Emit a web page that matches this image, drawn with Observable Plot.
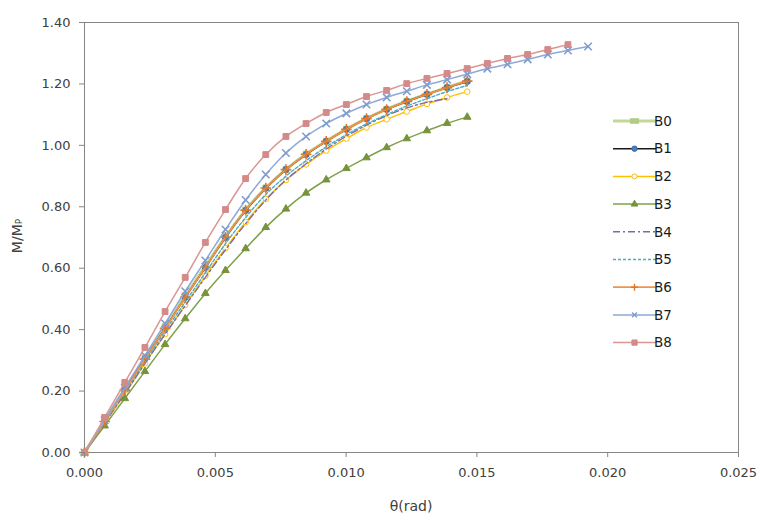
<!DOCTYPE html>
<html><head><meta charset="utf-8">
<script src="https://cdn.jsdelivr.net/npm/d3@7"></script>
<script src="https://cdn.jsdelivr.net/npm/@observablehq/plot@0.6"></script>
<style>
body{margin:0;background:#fff}
#chart{width:762px;height:520px}
svg{font-family:"DejaVu Sans",sans-serif}
</style>
</head><body><div id="chart"></div>
<script>
// rotation (rad) at each recorded step
const theta = [0, 0.00077, 0.00154, 0.00231, 0.00308, 0.00385, 0.00462, 0.00539, 0.00616, 0.00693,
  0.0077, 0.00847, 0.00924, 0.01001, 0.01078, 0.01155, 0.01232, 0.01309, 0.01386, 0.01463,
  0.0154, 0.01617, 0.01694, 0.01771, 0.01848, 0.01925];

const B0 = [0, 0.104, 0.207, 0.308, 0.410, 0.510, 0.607, 0.703, 0.790, 0.862, 0.922, 0.972, 1.014, 1.053, 1.088, 1.118, 1.144, 1.167, 1.189, 1.210];
const B1 = [0, 0.102, 0.205, 0.305, 0.405, 0.505, 0.602, 0.700, 0.788, 0.860, 0.921, 0.970, 1.013, 1.052, 1.087, 1.117, 1.143, 1.166, 1.188, 1.208];
const B2 = [0, 0.095, 0.190, 0.290, 0.385, 0.480, 0.575, 0.665, 0.750, 0.825, 0.887, 0.938, 0.983, 1.022, 1.058, 1.085, 1.110, 1.135, 1.156, 1.175];
const B3 = [0, 0.087, 0.176, 0.264, 0.352, 0.436, 0.518, 0.593, 0.664, 0.733, 0.793, 0.845, 0.888, 0.925, 0.960, 0.993, 1.022, 1.048, 1.072, 1.092];
const B4 = [0, 0.097, 0.192, 0.290, 0.385, 0.478, 0.570, 0.660, 0.745, 0.822, 0.887, 0.940, 0.988, 1.030, 1.066, 1.097, 1.122, 1.140, 1.152];
const B5 = [0, 0.100, 0.198, 0.297, 0.395, 0.490, 0.585, 0.680, 0.765, 0.840, 0.900, 0.950, 0.995, 1.035, 1.070, 1.100, 1.128, 1.152, 1.175, 1.195];
const B6 = [0, 0.101, 0.203, 0.304, 0.404, 0.505, 0.603, 0.701, 0.789, 0.861, 0.921, 0.971, 1.013, 1.052, 1.087, 1.117, 1.143, 1.166, 1.188, 1.209];
const B7 = [0, 0.105, 0.210, 0.315, 0.420, 0.525, 0.625, 0.726, 0.822, 0.905, 0.975, 1.029, 1.071, 1.104, 1.133, 1.156, 1.176, 1.197, 1.214, 1.232, 1.250, 1.264, 1.280, 1.296, 1.309, 1.322];
const B8 = [0, 0.114, 0.228, 0.342, 0.459, 0.570, 0.684, 0.791, 0.892, 0.970, 1.029, 1.071, 1.107, 1.133, 1.159, 1.179, 1.201, 1.218, 1.234, 1.250, 1.267, 1.283, 1.296, 1.312, 1.328];

const seriesNames = ["B0","B1","B2","B3","B4","B5","B6","B7","B8"];
const seriesValues = {B0,B1,B2,B3,B4,B5,B6,B7,B8};
const xTicks = [0, 0.005, 0.010, 0.015, 0.020, 0.025];
const yTicks = [0, 0.2, 0.4, 0.6, 0.8, 1.0, 1.2, 1.4];

const styles = {
  B0:{line:"#C4D79B", w:3, dash:null, symbol:"square", fill:"#B2CB85", mstroke:"#B2CB85", r:3.2},
  B1:{line:"#1a1a1a", w:1.5, dash:null, symbol:"circle", fill:"#4A7EBB", mstroke:"#3A6AA5", r:3},
  B2:{line:"#FFC000", w:1.5, dash:null, symbol:"circle", fill:"#ffffff", mstroke:"#FFC000", r:2.8},
  B3:{line:"#7EA14B", w:1.5, dash:null, symbol:"triangle", fill:"#77933C", mstroke:"#77933C", r:2.8},
  B4:{line:"#7E6AA2", w:1.4, dash:"7,3,2,3", symbol:null},
  B5:{line:"#4BACC6", w:1.4, dash:"3,2", symbol:null},
  B6:{line:"#F0944C", w:1.8, dash:null, symbol:"plus", fill:"none", mstroke:"#E0782C", r:3.5},
  B7:{line:"#8EA9D8", w:1.5, dash:null, symbol:"times", fill:"none", mstroke:"#7F9BCF", r:3.5},
  B8:{line:"#D99694", w:1.5, dash:null, symbol:"square", fill:"#D48A88", mstroke:"#D48A88", r:3.3}
};

const rows = seriesNames.flatMap(s => seriesValues[s].map((m, i) => ({s, t: theta[i], m})));

const marks = [Plot.frame({stroke:"#868686", strokeWidth:1})];
for (const s of seriesNames) {
  const st = styles[s];
  const d = rows.filter(r => r.s === s);
  marks.push(Plot.line(d, {x:"t", y:"m", stroke: st.line, strokeWidth: st.w, strokeDasharray: st.dash, curve:"catmull-rom"}));
  if (st.symbol) {
    marks.push(Plot.dot(d, {x:"t", y:"m", symbol: st.symbol, r: st.r, fill: st.fill, stroke: st.mstroke,
      strokeWidth: (st.symbol === "plus" || st.symbol === "times") ? 1.6 : 1}));
  }
}
marks.push(Plot.axisX({ticks: xTicks, tickFormat: d => d.toFixed(3), tickSize: 5, tickPadding: 10, fontSize: 13, label: null, stroke:"#868686"}));
marks.push(Plot.axisY({ticks: yTicks, tickFormat: d => d.toFixed(2), tickSize: 5, tickPadding: 9, fontSize: 13, label: null, stroke:"#868686"}));

const chart = Plot.plot({
  width: 762, height: 520,
  marginLeft: 84, marginRight: 24, marginTop: 22, marginBottom: 68,
  x: {domain: [0, 0.025]},
  y: {domain: [0, 1.4]},
  style: {fontFamily: "DejaVu Sans, sans-serif", color: "#333", background: "#fff", overflow: "visible"},
  marks
});
document.getElementById("chart").appendChild(chart);

const svg = d3.select(chart);
svg.selectAll("[aria-label='x-axis tick label'] text, [aria-label='y-axis tick label'] text").attr("fill", "#404040");
// axis titles
svg.append("text").attr("x", 411).attr("y", 511).attr("text-anchor", "middle")
  .attr("font-size", 14).attr("fill", "#404040").text("θ(rad)");
const yt = svg.append("text").attr("transform", "translate(22,236) rotate(-90)").attr("text-anchor", "middle")
  .attr("font-size", 14).attr("fill", "#404040");
yt.append("tspan").text("M/M");
yt.append("tspan").attr("font-size", 9).text("P");

// legend
const lg = svg.append("g");
const symMap = {square: d3.symbolSquare, circle: d3.symbolCircle, triangle: d3.symbolTriangle, plus: d3.symbolPlus, times: d3.symbolTimes};
seriesNames.forEach((s, i) => {
  const st = styles[s];
  const y = 121 + i * 27.7;
  const g = lg.append("g").attr("transform", `translate(0,${y})`);
  g.append("line").attr("x1", 613).attr("x2", 656).attr("y1", 0).attr("y2", 0)
    .attr("stroke", st.line).attr("stroke-width", st.w).attr("stroke-dasharray", st.dash);
  if (st.symbol) {
    const thin = st.symbol === "plus" || st.symbol === "times";
    const area = Math.PI * st.r * st.r * (thin ? 0.45 : 0.8);
    const p = g.append("path").attr("transform", "translate(634.5,0)").attr("d", d3.symbol(symMap[st.symbol], area)())
      .attr("fill", st.fill).attr("stroke", st.mstroke)
      .attr("stroke-width", thin ? 1.4 : 1);
    if (s === "B0") p.attr("transform", "translate(634.5,0) scale(1.5,0.9)");
  }
  g.append("text").attr("x", 663).attr("y", 0).attr("dy", "0.35em").attr("font-size", 13.5).attr("fill", "#1a1a1a").text(s);
});
</script>
</body></html>
